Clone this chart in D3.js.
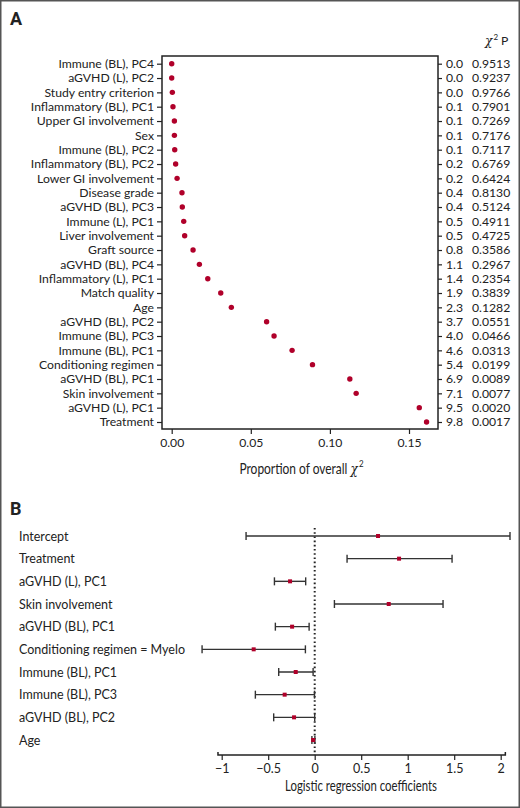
<!DOCTYPE html>
<html>
<head>
<meta charset="utf-8">
<script src="https://cdn.jsdelivr.net/npm/d3@7"></script>
<style>
  body { margin: 0; background: #fff; }
  svg text { font-family: Lato, "Open Sans", sans-serif; fill: #222; }
</style>
</head>
<body>
<svg width="520" height="808"></svg>
<script>
// panel A: proportion of overall chi-square
const varsA = ['Immune (BL), PC4', 'aGVHD (L), PC2', 'Study entry criterion', 'Inflammatory (BL), PC1',
  'Upper GI involvement', 'Sex', 'Immune (BL), PC2', 'Inflammatory (BL), PC2', 'Lower GI involvement',
  'Disease grade', 'aGVHD (BL), PC3', 'Immune (L), PC1', 'Liver involvement', 'Graft source',
  'aGVHD (BL), PC4', 'Inflammatory (L), PC1', 'Match quality', 'Age', 'aGVHD (BL), PC2',
  'Immune (BL), PC3', 'Immune (BL), PC1', 'Conditioning regimen', 'aGVHD (BL), PC1',
  'Skin involvement', 'aGVHD (L), PC1', 'Treatment'];
const propA = [0.0000, 0.0000, 0.0004, 0.0008, 0.0017, 0.0017, 0.0019, 0.0025, 0.0034,
  0.0065, 0.0067, 0.0076, 0.0082, 0.0135, 0.0175, 0.0228, 0.0310, 0.0377, 0.0600,
  0.0647, 0.0761, 0.0890, 0.1126, 0.1166, 0.1565, 0.1611];
const chiA = ['0.0', '0.0', '0.0', '0.1', '0.1', '0.1', '0.1', '0.2', '0.2', '0.4', '0.4', '0.5', '0.5',
  '0.8', '1.1', '1.4', '1.9', '2.3', '3.7', '4.0', '4.6', '5.4', '6.9', '7.1', '9.5', '9.8'];
const pA = ['0.9513', '0.9237', '0.9766', '0.7901', '0.7269', '0.7176', '0.7117', '0.6769', '0.6424',
  '0.8130', '0.5124', '0.4911', '0.4725', '0.3586', '0.2967', '0.2354', '0.3839', '0.1282',
  '0.0551', '0.0466', '0.0313', '0.0199', '0.0089', '0.0077', '0.0020', '0.0017'];
const ticksA = [0, 0.05, 0.10, 0.15];

// panel B: logistic regression coefficients with intervals
const varsB = ['Intercept', 'Treatment', 'aGVHD (L), PC1', 'Skin involvement', 'aGVHD (BL), PC1',
  'Conditioning regimen = Myelo', 'Immune (BL), PC1', 'Immune (BL), PC3', 'aGVHD (BL), PC2', 'Age'];
const estB = [0.681, 0.907, -0.265, 0.796, -0.243, -0.656, -0.204, -0.323, -0.222, -0.017];
const lowB = [-0.738, 0.348, -0.433, 0.212, -0.423, -1.211, -0.387, -0.638, -0.441, -0.030];
const highB = [2.10, 1.477, -0.097, 1.38, -0.06, -0.10, -0.017, -0.002, 0.0, 0.002];
const ticksB = [-1, -0.5, 0, 0.5, 1, 1.5, 2];

const red = '#b0002a', ink = '#222';
const fsA = 12.2, fsB = 12.5;
const svg = d3.select('svg');

// squeeze a text horizontally so it reads like a condensed face
function condense(sel, cx, y, width) {
  const len = sel.node().getComputedTextLength();
  sel.attr('text-anchor', 'middle')
    .attr('transform', `translate(${cx},${y}) scale(${width / len},1)`);
}

svg.append('rect').attr('x', 0.75).attr('y', 0.75).attr('width', 518.5).attr('height', 806.5)
  .attr('fill', 'none').attr('stroke', '#555').attr('stroke-width', 1.5);

// ---------- panel A ----------
svg.append('text').attr('x', 10).attr('y', 25).attr('font-size', 18).attr('font-weight', 'bold')
  .style('font-family', 'Roboto, "Open Sans", sans-serif').text('A');

const boxA = { l: 162, r: 438, t: 56, b: 429 };
const xA = d3.scaleLinear().domain([0, 0.15]).range([171.7, 409]);
const yA = d3.scalePoint().domain(varsA).range([63.7, 422]);

svg.append('rect').attr('x', boxA.l).attr('y', boxA.t)
  .attr('width', boxA.r - boxA.l).attr('height', boxA.b - boxA.t)
  .attr('fill', 'none').attr('stroke', ink).attr('stroke-width', 1.5);

const axLeft = svg.append('g').attr('transform', `translate(${boxA.l},0)`)
  .call(d3.axisLeft(yA).tickSize(5).tickPadding(3));
axLeft.select('.domain').remove();
axLeft.selectAll('text').attr('font-size', fsA).attr('fill', ink);
axLeft.selectAll('line').attr('stroke', ink).attr('stroke-width', 1.2);

const axRight = svg.append('g').attr('transform', `translate(${boxA.r},0)`)
  .call(d3.axisRight(yA).tickSize(4).tickFormat(''));
axRight.select('.domain').remove();
axRight.selectAll('line').attr('stroke', ink).attr('stroke-width', 1.2);

const axBottomA = svg.append('g').attr('transform', `translate(0,${boxA.b})`)
  .call(d3.axisBottom(xA).tickValues(ticksA).tickFormat(d3.format('.2f')).tickSize(5).tickPadding(4));
axBottomA.select('.domain').remove();
axBottomA.selectAll('text').attr('font-size', fsA).attr('fill', ink);
axBottomA.selectAll('line').attr('stroke', ink).attr('stroke-width', 1.2);

svg.append('g').selectAll('circle').data(propA).join('circle')
  .attr('cx', d => xA(d)).attr('cy', (d, i) => yA(varsA[i]))
  .attr('r', 2.7).attr('fill', red);

svg.append('g').selectAll('text').data(chiA).join('text')
  .attr('x', 446).attr('y', (d, i) => yA(varsA[i])).attr('dy', '0.36em')
  .attr('font-size', fsA).text(d => d);
svg.append('g').selectAll('text').data(pA).join('text')
  .attr('x', 472).attr('y', (d, i) => yA(varsA[i])).attr('dy', '0.36em')
  .attr('font-size', fsA).text(d => d);

const hdr = svg.append('text').attr('x', 485).attr('y', 45).attr('font-size', fsA);
hdr.append('tspan').style('font-family', '"DejaVu Serif", serif').style('font-style', 'italic').text('χ');
hdr.append('tspan').attr('dy', -5).attr('dx', 1).attr('font-size', 8).text('2');
hdr.append('tspan').attr('dy', 5).attr('dx', 3).text('P');

const ttlA = svg.append('text').attr('font-size', 15);
ttlA.append('tspan').text('Proportion of overall ');
ttlA.append('tspan').style('font-family', '"DejaVu Serif", serif').style('font-style', 'italic').text('χ');
ttlA.append('tspan').attr('dy', -7).attr('dx', 1.5).attr('font-size', 10).text('2');
condense(ttlA, 301.5, 474, 123);

// ---------- panel B ----------
svg.append('text').attr('x', 10).attr('y', 515).attr('font-size', 18).attr('font-weight', 'bold')
  .style('font-family', 'Roboto, "Open Sans", sans-serif').text('B');

const xB = d3.scaleLinear().domain([-1, 2]).range([221.7, 500.7]);
const yB = d3.scalePoint().domain(varsB).range([536, 740]);
const axisYB = 755;

svg.append('g').selectAll('text').data(varsB).join('text')
  .attr('x', 19).attr('y', d => yB(d)).attr('dy', '0.36em')
  .attr('font-size', fsB).text(d => d);

const axB = svg.append('g').attr('transform', `translate(0,${axisYB})`)
  .call(d3.axisBottom(xB).tickValues(ticksB).tickSize(5).tickPadding(4)
    .tickFormat(d => d3.format('')(d).replace('-', '\u2212')));
axB.select('.domain').attr('d', `M${xB(-1.04)},-3V0H${xB(2.05)}V-3`)
  .attr('stroke', ink).attr('stroke-width', 1.5);
axB.selectAll('text').attr('font-size', fsB).attr('fill', ink);
axB.selectAll('line').attr('stroke', ink).attr('stroke-width', 1.2);

svg.append('line').attr('x1', xB(0)).attr('x2', xB(0)).attr('y1', 528).attr('y2', axisYB)
  .attr('stroke', ink).attr('stroke-width', 2).attr('stroke-dasharray', '1.6,2.6');

const bars = svg.append('g').selectAll('g').data(varsB).join('g')
  .attr('transform', d => `translate(0,${yB(d)})`)
  .attr('stroke', '#333').attr('stroke-width', 1.4);
bars.append('line').attr('x1', (d, i) => xB(lowB[i])).attr('x2', (d, i) => xB(highB[i]));
bars.append('line').attr('x1', (d, i) => xB(lowB[i])).attr('x2', (d, i) => xB(lowB[i]))
  .attr('y1', -4).attr('y2', 4);
bars.append('line').attr('x1', (d, i) => xB(highB[i])).attr('x2', (d, i) => xB(highB[i]))
  .attr('y1', -4).attr('y2', 4);
bars.append('rect').attr('x', (d, i) => xB(estB[i]) - 2).attr('y', -2)
  .attr('width', 4).attr('height', 4).attr('fill', red).attr('stroke', 'none');

const ttlB = svg.append('text').attr('font-size', 15).text('Logistic regression coefficients');
condense(ttlB, 361, 791, 152);
</script>
</body>
</html>
